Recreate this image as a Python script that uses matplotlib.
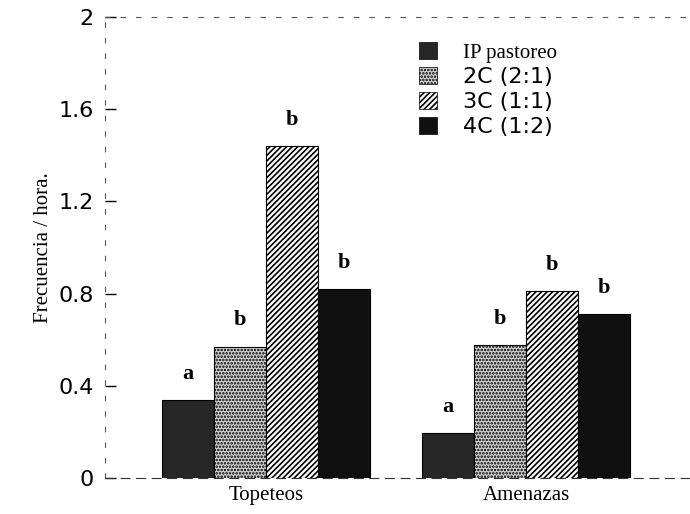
import numpy as np
import matplotlib.pyplot as plt
from matplotlib.patches import Patch

plt.rcParams['hatch.linewidth'] = 1.2

groups = ['Topeteos', 'Amenazas']
series = ['IP pastoreo', '2C (2:1)', '3C (1:1)', '4C (1:2)']
values = [
    [0.34, 0.195],
    [0.57, 0.577],
    [1.44, 0.81],
    [0.82, 0.71],
]
letters = [
    ['a', 'a'],
    ['b', 'b'],
    ['b', 'b'],
    ['b', 'b'],
]
yticks = [0, 0.4, 0.8, 1.2, 1.6, 2]
ytick_labels = ['0', '0.4', '0.8', '1.2', '1.6', '2']

faces = ['#262626', '#d0d0d0', 'white', '#101010']
hatches = [None, '.....', '//////', None]
label_fonts = ['Liberation Serif', 'DejaVu Sans', 'DejaVu Sans', 'DejaVu Sans']

fig = plt.figure(figsize=(6.9, 5.14), dpi=100)
ax = fig.add_axes([0.152, 0.07, 0.852, 0.897])

x = np.arange(len(groups))
w = 0.2
for i, s in enumerate(series):
    pos = x + (i - 1.5) * w
    ax.bar(pos, values[i], width=w, color=faces[i], hatch=hatches[i],
           edgecolor='black', linewidth=0.8)
    for p, v, l in zip(pos, values[i], letters[i]):
        ax.text(p, v + 0.07, l, ha='center', va='bottom', fontsize=16,
                family='Liberation Serif', weight='bold')

ax.set_xlim(-0.62, 1.64)
ax.set_ylim(0, 2)
ax.set_xticks(x)
ax.set_xticklabels(groups, family='Liberation Serif', fontsize=15)
ax.set_yticks(yticks)
ax.set_yticklabels(ytick_labels, fontsize=16)
ax.tick_params(axis='x', length=0, pad=6)
ax.tick_params(axis='y', direction='in', length=8, width=1, pad=8)
ax.set_ylabel('Frecuencia / hora.', family='Liberation Serif', fontsize=15)

for sp in ['top', 'right', 'left']:
    ax.spines[sp].set_linestyle((0, (4, 10)))
    ax.spines[sp].set_color('#555555')
    ax.spines[sp].set_linewidth(0.8)
ax.spines['bottom'].set_linestyle((0, (8, 6)))
ax.spines['bottom'].set_color('#333333')

handles = [Patch(facecolor=faces[i], hatch=hatches[i], edgecolor='black', linewidth=0.5)
           for i in range(len(series))]
leg = ax.legend(handles, series, loc='upper left', bbox_to_anchor=(0.5, 0.99),
                frameon=False, fontsize=16, handlelength=0.8, handleheight=0.8,
                handletextpad=1.2, labelspacing=0.2)
for t, f in zip(leg.get_texts(), label_fonts):
    t.set_family(f)
leg.get_texts()[0].set_fontsize(15)

fig.savefig('out.png', dpi=100)
